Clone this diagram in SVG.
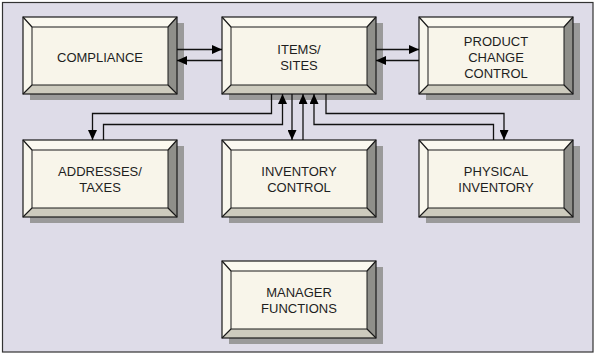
<svg xmlns="http://www.w3.org/2000/svg" xmlns:xlink="http://www.w3.org/1999/xlink" width="596" height="353" viewBox="0 0 596 353">
  <style>
    .lbl { font-family: "Liberation Sans", Arial, sans-serif; font-size: 13px; fill: #1e1e1e; text-anchor: middle; }
    .con { fill: none; stroke: #111; stroke-width: 1.3; }
    .edge { fill: none; stroke: #1a1a1a; stroke-width: 1.2; }
  </style>
  <defs>
    <marker id="arr" markerUnits="userSpaceOnUse" markerWidth="10" markerHeight="9" refX="10" refY="4.5" orient="auto">
      <path d="M0,0 L10,4.5 L0,9 Z" fill="#000"/>
    </marker>
    <g id="box">
      <rect x="7" y="6" width="154" height="77" fill="#9a9a9a"/>
      <polygon points="0,0 154,0 145,10 9,10" fill="#fbf9f0"/>
      <polygon points="0,0 9,10 9,68 0,77" fill="#f9f7ed"/>
      <polygon points="0,77 9,68 145,68 154,77" fill="#cdcbbe"/>
      <polygon points="154,0 154,77 145,68 145,10" fill="#8f8f8a"/>
      <rect x="9" y="10" width="136" height="58" fill="#f8f5ea" stroke="#1a1a1a" stroke-width="1"/>
      <path class="edge" d="M0,0 L9,10 M154,0 L145,10 M0,77 L9,68 M154,77 L145,68"/>
      <rect x="0" y="0" width="154" height="77" class="edge"/>
    </g>
  </defs>
  <rect x="2.5" y="2.5" width="590.5" height="349.5" fill="#dedce8" stroke="#333" stroke-width="1.2"/>

  <g id="compliance">
    <use xlink:href="#box" href="#box" transform="translate(23,17)"/>
    <text class="lbl" x="100" y="61.5">COMPLIANCE</text>
  </g>
  <g id="items-sites">
    <use xlink:href="#box" href="#box" transform="translate(222,17)"/>
    <text class="lbl" x="299" y="53.5">ITEMS/</text>
    <text class="lbl" x="299" y="69.5">SITES</text>
  </g>
  <g id="product-change-control">
    <use xlink:href="#box" href="#box" transform="translate(419,17)"/>
    <text class="lbl" x="496" y="45.5">PRODUCT</text>
    <text class="lbl" x="496" y="61.5">CHANGE</text>
    <text class="lbl" x="496" y="77.5">CONTROL</text>
  </g>
  <g id="addresses-taxes">
    <use xlink:href="#box" href="#box" transform="translate(23,140)"/>
    <text class="lbl" x="100" y="176">ADDRESSES/</text>
    <text class="lbl" x="100" y="192">TAXES</text>
  </g>
  <g id="inventory-control">
    <use xlink:href="#box" href="#box" transform="translate(222,140)"/>
    <text class="lbl" x="299" y="176">INVENTORY</text>
    <text class="lbl" x="299" y="192">CONTROL</text>
  </g>
  <g id="physical-inventory">
    <use xlink:href="#box" href="#box" transform="translate(419,140)"/>
    <text class="lbl" x="496" y="176">PHYSICAL</text>
    <text class="lbl" x="496" y="192">INVENTORY</text>
  </g>
  <g id="manager-functions">
    <use xlink:href="#box" href="#box" transform="translate(222,261)"/>
    <text class="lbl" x="299" y="296.5">MANAGER</text>
    <text class="lbl" x="299" y="312.5">FUNCTIONS</text>
  </g>

  <g id="connectors">
    <path class="con" d="M177,49.5 H222" marker-end="url(#arr)"/>
    <path class="con" d="M222,60.5 H177" marker-end="url(#arr)"/>
    <path class="con" d="M376,49.5 H419" marker-end="url(#arr)"/>
    <path class="con" d="M419,60.5 H376" marker-end="url(#arr)"/>
    <path class="con" d="M271.5,94 V113.5 H92.5 V140" marker-end="url(#arr)"/>
    <path class="con" d="M103.5,140 V124.5 H282.5 V94" marker-end="url(#arr)"/>
    <path class="con" d="M292,94 V140" marker-end="url(#arr)"/>
    <path class="con" d="M303,140 V94" marker-end="url(#arr)"/>
    <path class="con" d="M493.5,140 V124.5 H314 V94" marker-end="url(#arr)"/>
    <path class="con" d="M326,94 V113.5 H504 V140" marker-end="url(#arr)"/>
  </g>
</svg>
